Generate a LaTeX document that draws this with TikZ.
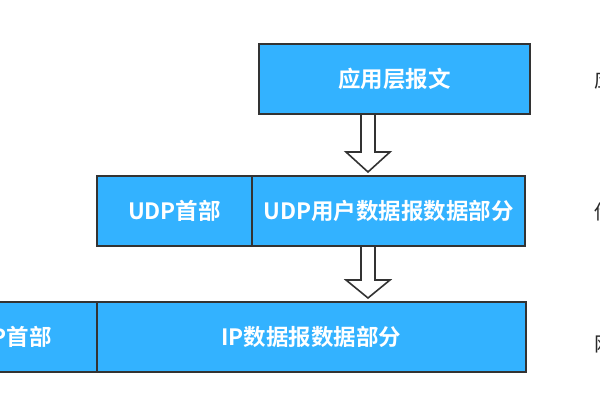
\documentclass[tikz,border=0pt]{standalone}
\usepackage{fontspec}
\setmainfont{Noto Sans CJK SC}
\newfontfamily\cjkbold{Noto Sans CJK SC Bold}
\usetikzlibrary{calc}
\definecolor{boxblue}{RGB}{51,178,255}
\definecolor{edge}{RGB}{51,51,51}
\definecolor{sidetext}{RGB}{40,40,40}
\tikzset{
  pkt/.style={draw=edge, line width=2pt, fill=boxblue, text=white, inner sep=0pt,
    font=\cjkbold\fontsize{22.5}{22.5}\selectfont, anchor=north west},
  blockarrow/.style={draw=edge, line width=1.6pt, fill=white, line join=miter},
  side/.style={text=sidetext, font=\fontsize{20}{20}\selectfont, anchor=west, inner sep=0pt}
}
\begin{document}
\begin{tikzpicture}[x=1pt,y=-1pt]
\useasboundingbox (0,0) rectangle (600,400);
\clip (0,0) rectangle (600,400);
\fill[white] (0,0) rectangle (600,400);
% top
\node[pkt, minimum width=271pt, minimum height=70pt] (app) at (258,43) {应用层报文};
% middle
\node[pkt, minimum width=155pt, minimum height=70pt] (udph) at (96,175) {UDP首部};
\node[pkt, minimum width=273pt, minimum height=70pt] (udpd) at (251,175) {UDP用户数据报数据部分};
% bottom
\node[pkt, minimum width=158pt, minimum height=70pt] (iph) at (-62,301) {IP首部};
\node[pkt, minimum width=429pt, minimum height=70pt] (ipd) at (96,301) {IP数据报数据部分};
% block arrows
\coordinate (a1) at (368,114);
\coordinate (a2) at (368,246);
\draw[blockarrow] ($(a1)+(-7,0)$) -- ($(a1)+(7,0)$) -- ($(a1)+(7,38)$) -- ($(a1)+(22,38)$)
  -- ($(a1)+(0,58)$) -- ($(a1)+(-22,38)$) -- ($(a1)+(-7,38)$) -- cycle;
\draw[blockarrow] ($(a2)+(-7,0)$) -- ($(a2)+(7,0)$) -- ($(a2)+(7,34)$) -- ($(a2)+(22,34)$)
  -- ($(a2)+(0,52)$) -- ($(a2)+(-22,34)$) -- ($(a2)+(-7,34)$) -- cycle;
% side labels (cut off at right edge, as in the reference)
\node[side] (l1) at (594,80) {应用层};
\node[side] (l2) at (594,212) {传输层};
\node[side] (l3) at (594,344) {网络层};
\end{tikzpicture}
\end{document}
